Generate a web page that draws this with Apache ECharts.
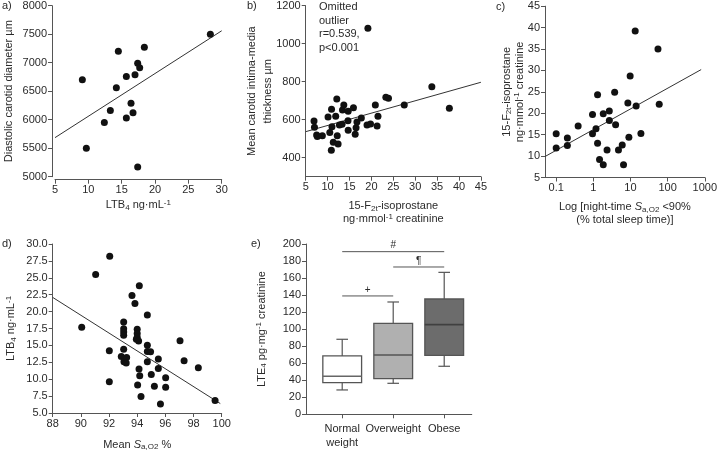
<!DOCTYPE html>
<html><head><meta charset="utf-8">
<script src="https://cdn.jsdelivr.net/npm/echarts@6/dist/echarts.min.js"></script>
<style>html,body{margin:0;padding:0;background:#fff}#c{width:720px;height:452px}</style>
</head><body><div id="c"></div>
<script>
// ---------- DATA ----------
const aPoints = [[9.1,6700],[9.7,5500],[12.4,5950],[13.3,6160],[14.2,6560],[14.5,7200],[15.7,6760],[15.7,6030],[16.4,6290],[16.7,6120],[17.0,6790],[17.4,6990],[17.7,6910],[17.4,5170],[18.4,7270],[28.3,7500]];
const aFit = [[5,5685],[30,7560]];

const bPoints = [[6.9,593],[7.0,560],[7.5,519],[7.65,511],[8.8,516],[10.1,614],[10.5,532],[10.9,655],[11.0,563],[11.3,481],[10.85,439],[11.85,618],[12.1,709],[12.2,516],[12.4,472],[12.7,572],[13.3,576],[13.4,651],[13.7,677],[14.65,595],[14.7,644],[14.7,544],[15.9,663],[16.3,523],[16.5,558],[16.7,588],[17.7,609],[19.0,572],[19.8,577],[21.3,567],[21.5,618],[20.9,677],[23.3,718],[23.9,713],[27.5,677],[33.8,774],[37.8,660],[19.2,1081]];
const bFit = [[5,537],[45,797]];
const bYTicks = [400,600,800,1000,1200];

const cPoints = [[0.1,15.2],[0.1,11.9],[0.2,14.2],[0.2,12.5],[0.39,17.0],[0.95,19.7],[0.95,15.2],[1.18,16.4],[1.3,24.3],[1.3,13.0],[1.47,9.2],[1.85,8.0],[1.85,19.9],[2.34,11.4],[2.69,20.5],[2.7,18.3],[3.75,24.9],[3.98,17.3],[4.75,11.4],[6.0,12.6],[6.5,8.0],[8.5,22.4],[9.06,14.4],[9.8,28.7],[13.4,39.2],[14.2,21.7],[19.1,15.3],[55,35.0],[59.4,22.1]];
const cFit = [[0.05,9.9],[800,30.2]];
const cXTicks = [0.1,1,10,100,1000];

const dPoints = [[90.06,17.7],[91.05,25.5],[92.05,28.2],[92.02,14.2],[92.02,9.64],[93.04,18.45],[93.04,17.48],[93.04,16.98],[93.04,16.5],[93.04,14.44],[92.87,13.37],[93.06,12.58],[93.25,13.2],[93.22,12.39],[93.63,22.37],[93.84,21.2],[94.15,23.84],[94.0,17.38],[94.0,16.75],[94.0,16.2],[93.94,15.9],[94.1,15.66],[94.72,19.48],[94.72,15.03],[94.72,14.1],[94.95,14.05],[94.72,12.58],[94.13,11.5],[94.18,10.52],[94.03,9.16],[95.0,10.7],[95.5,12.97],[95.5,11.6],[94.27,7.45],[95.22,8.96],[95.65,6.32],[96.02,10.2],[96.02,8.82],[97.04,15.67],[97.33,12.73],[98.34,11.7],[99.53,6.86]];
const dFit = [[88,22.1],[99.9,6.4]];

const eCategories = ['Normal\nweight','Overweight','Obese'];
const eCatPos = [1,2,3];
// [min, Q1, median, Q3, max]
const eBoxes = [[28.6,37.2,44.6,68.5,88.1],[36.4,41.9,69.7,106.8,131.9],[56.4,69.3,105.3,135.4,166.7]];
// [from category, to category, height]
const eBrackets = [[1,3,191],[2,3,173],[1,2,139]];
const eBracketMarks = ['#','\u00b6','+'];

// ---------- STYLE ----------
const FONT = '"Liberation Sans", Arial, sans-serif';
const TXT = '#2a2a2a';
const AX = '#555555';
const DOT = '#111111';
const eFills = ['#ffffff','#b0b0b0','#6c6c6c'];
const eMedian = ['#666666','#555555','#404040'];

const rich = {
  n: {fontSize: 11, fontFamily: FONT, color: TXT, lineHeight: 13},
  sub: {fontSize: 8, fontFamily: FONT, color: TXT, lineHeight: 8, verticalAlign: 'bottom'},
  sup: {fontSize: 8, fontFamily: FONT, color: TXT, lineHeight: 8, verticalAlign: 'top'},
  i: {fontSize: 11, fontFamily: FONT, color: TXT, fontStyle: 'italic', lineHeight: 13}
};

function merge(a, b) {
  const out = Object.assign({}, a);
  for (const k in b) {
    if (b[k] && typeof b[k] === 'object' && !Array.isArray(b[k]) && a[k] && typeof a[k] === 'object') out[k] = merge(a[k], b[k]);
    else out[k] = b[k];
  }
  return out;
}
function axis(extra) {
  return merge({
    axisLine: {show: true, onZero: false, lineStyle: {color: AX, width: 1}},
    axisTick: {show: true, length: 4, inside: false, lineStyle: {color: AX, width: 1}},
    axisLabel: {color: TXT, fontSize: 11, fontFamily: FONT, margin: 5, showMinLabel: true, showMaxLabel: true, hideOverlap: false,
      formatter: v => String(v)},
    splitLine: {show: false},
    nameLocation: 'middle',
    nameMoveOverlap: false,
    nameTextStyle: {color: TXT, fontSize: 11, fontFamily: FONT, rich: rich, lineHeight: 13}
  }, extra);
}

const LTB = '{n|LTB}{sub|4}{n| ng\u00b7mL}{sup|-1}';
const ISO = '{n|15-F}{sub|2t}{n|-isoprostane}\n{n|ng\u00b7mmol}{sup|-1}{n| creatinine}';

function scatter(gi, pts) {
  return {type: 'scatter', xAxisIndex: gi, yAxisIndex: gi, data: pts, symbolSize: 7,
    itemStyle: {color: DOT, opacity: 1}, silent: true, z: 3};
}
function fit(gi, pts) {
  return {type: 'line', xAxisIndex: gi, yAxisIndex: gi, data: pts, showSymbol: false, symbol: 'none',
    lineStyle: {color: '#333', width: 1}, silent: true, z: 2};
}

function renderBox(params, api) {
  const x = api.value(0);
  const pts = [1,2,3,4,5].map(i => api.coord([x, api.value(i)]));
  const cx = pts[0][0];
  const bw = api.size([1, 0])[0] * 0.76;
  const cap = bw * 0.3;
  const i = params.dataIndex;
  const ls = {stroke: '#555555', lineWidth: 1.2};
  return {type: 'group', children: [
    {type: 'line', shape: {x1: cx, y1: pts[0][1], x2: cx, y2: pts[1][1]}, style: ls},
    {type: 'line', shape: {x1: cx, y1: pts[3][1], x2: cx, y2: pts[4][1]}, style: ls},
    {type: 'line', shape: {x1: cx - cap/2, y1: pts[0][1], x2: cx + cap/2, y2: pts[0][1]}, style: ls},
    {type: 'line', shape: {x1: cx - cap/2, y1: pts[4][1], x2: cx + cap/2, y2: pts[4][1]}, style: ls},
    {type: 'rect', shape: {x: cx - bw/2, y: pts[3][1], width: bw, height: pts[1][1] - pts[3][1]}, style: {fill: eFills[i], stroke: '#555555', lineWidth: 1.3}},
    {type: 'line', shape: {x1: cx - bw/2, y1: pts[2][1], x2: cx + bw/2, y2: pts[2][1]}, style: {stroke: eMedian[i], lineWidth: 1.6}}
  ]};
}
function renderBracket(params, api) {
  const p1 = api.coord([api.value(0), api.value(2)]);
  const p2 = api.coord([api.value(1), api.value(2)]);
  return {type: 'group', children: [
    {type: 'line', shape: {x1: p1[0], y1: p1[1], x2: p2[0], y2: p2[1]}, style: {stroke: '#555555', lineWidth: 1}},
    {type: 'text', style: {text: eBracketMarks[params.dataIndex], x: (p1[0] + p2[0]) / 2, y: p1[1] - 1, align: 'center', verticalAlign: 'bottom', fontSize: 10, fill: TXT, fontFamily: FONT}}
  ]};
}

const titleStyle = {fontSize: 11, fontWeight: 'normal', color: TXT, fontFamily: FONT};

const option = {
  animation: false,
  backgroundColor: '#fff',
  title: [
    {text: 'a)', left: 2, top: 0, padding: 0, textStyle: titleStyle},
    {text: 'b)', left: 247, top: 0, padding: 0, textStyle: titleStyle},
    {text: 'c)', left: 496, top: 1, padding: 0, textStyle: titleStyle},
    {text: 'd)', left: 2, top: 238, padding: 0, textStyle: titleStyle},
    {text: 'e)', left: 251, top: 238, padding: 0, textStyle: titleStyle},
    {text: 'Omitted\noutlier\nr=0.539,\np<0.001', left: 319, top: 0, padding: 0, textStyle: Object.assign({}, titleStyle, {lineHeight: 13.7})}
  ],
  grid: [
    {left: 55, top: 5.7, width: 166.7, height: 171, containLabel: false},
    {left: 305.7, top: 5.7, width: 175.2, height: 171, containLabel: false},
    {left: 545, top: 6.2, width: 168.3, height: 171.3, containLabel: false},
    {left: 52.7, top: 244, width: 169, height: 170.5, containLabel: false},
    {left: 306, top: 244, width: 165.75, height: 170.3, containLabel: false}
  ],
  xAxis: [
    axis({gridIndex: 0, type: 'value', min: 5, max: 30, interval: 5, offset: 3, name: LTB, nameGap: 19}),
    axis({gridIndex: 1, type: 'value', min: 5, max: 45, interval: 5, name: ISO, nameGap: 23}),
    axis({gridIndex: 2, type: 'log', logBase: 10, min: 0.05, max: 1000,
      axisLabel: {customValues: cXTicks, formatter: v => String(+(+v).toPrecision(3))}, axisTick: {customValues: cXTicks},
      name: '{n|Log [night-time }{i|S}{sub|a,O2}{n| <90%}\n{n|(% total sleep time)]}', nameGap: 23}),
    axis({gridIndex: 3, type: 'value', min: 88, max: 100, interval: 2, name: '{n|Mean }{i|S}{sub|a,O2}{n| %}', nameGap: 25}),
    axis({gridIndex: 4, type: 'value', min: 0.29, max: 3.54,
      axisLabel: {customValues: eCatPos, formatter: v => eCategories[Math.round(v) - 1] || '', margin: 7, lineHeight: 14.6},
      axisTick: {customValues: eCatPos}})
  ],
  yAxis: [
    axis({gridIndex: 0, type: 'value', min: 5000, max: 8000, interval: 500, offset: 3, name: 'Diastolic carotid diameter \u00b5m', nameGap: 37}),
    axis({gridIndex: 1, type: 'value', min: 300, max: 1200,
      axisLabel: {customValues: bYTicks}, axisTick: {customValues: bYTicks},
      name: '{m|Mean carotid intima-media}\n{m|thickness \u00b5m}', nameGap: 29,
      nameTextStyle: {rich: {m: {fontSize: 11, fontFamily: FONT, color: TXT, lineHeight: 16.5}}}}),
    axis({gridIndex: 2, type: 'value', min: 5, max: 45, interval: 5,
      name: '{n|15-F}{sub|2t}{n|-isoprostane}\n{n|ng\u00b7mmol}{sup|-1}{n| creatinine}', nameGap: 19}),
    axis({gridIndex: 3, type: 'value', min: 5, max: 30, interval: 2.5,
      axisLabel: {formatter: v => (+v).toFixed(1)}, name: LTB, nameGap: 35}),
    axis({gridIndex: 4, type: 'value', min: 0, max: 200, interval: 20,
      name: '{n|LTE}{sub|4}{n| pg\u00b7mg}{sup|-1}{n| creatinine}', nameGap: 38})
  ],
  series: [
    fit(0, aFit), scatter(0, aPoints),
    fit(1, bFit), scatter(1, bPoints),
    fit(2, cFit), scatter(2, cPoints),
    fit(3, dFit), scatter(3, dPoints),
    {type: 'custom', xAxisIndex: 4, yAxisIndex: 4, renderItem: renderBox, silent: true,
      encode: {x: 0, y: [1,2,3,4,5]}, data: eBoxes.map((b, i) => [eCatPos[i]].concat(b))},
    {type: 'custom', xAxisIndex: 4, yAxisIndex: 4, renderItem: renderBracket, silent: true,
      encode: {x: [0,1], y: 2}, data: eBrackets}
  ]
};

const chart = echarts.init(document.getElementById('c'), null, {renderer: 'canvas'});
chart.setOption(option);
</script>
</body></html>
